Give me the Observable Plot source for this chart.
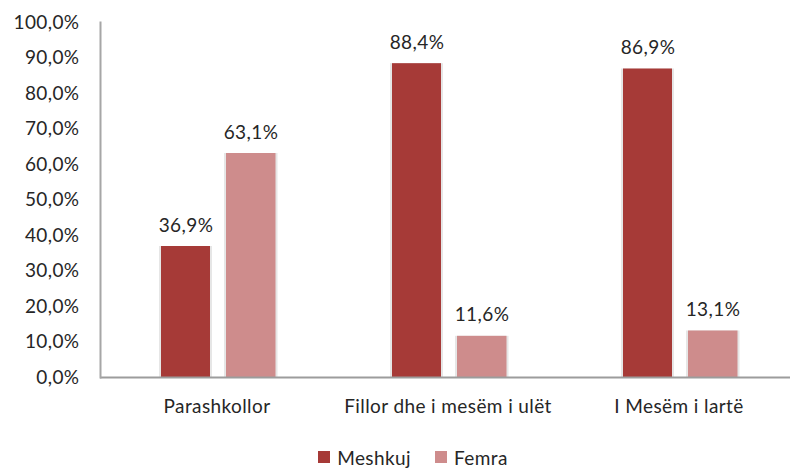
<!DOCTYPE html>
<html>
<head>
<meta charset="utf-8">
<script src="https://cdn.jsdelivr.net/npm/d3@7"></script>
<script src="https://cdn.jsdelivr.net/npm/@observablehq/plot@0.6"></script>
<style>
  body { margin: 0; background: #fff; }
  #legend { height: 30px; box-sizing: border-box; padding-top: 4px; display: flex; align-items: center; justify-content: center; margin-left: 36px;
    font-family: Lato, sans-serif; font-size: 19px; color: #262626; letter-spacing: 0.4px; }
  .sw { width: 12px; height: 12px; display: inline-block; margin-right: 7px; }
  .item { display: flex; align-items: center; margin: 0 12px; }
</style>
</head>
<body>
<div id="chart"></div>
<div id="legend"></div>
<script>
const categories = ["Parashkollor", "Fillor dhe i mesëm i ulët", "I Mesëm i lartë"];
const seriesNames = ["Meshkuj", "Femra"];
const meshkuj = [36.9, 88.4, 86.9];
const femra = [63.1, 11.6, 13.1];
const yTicks = [0, 10, 20, 30, 40, 50, 60, 70, 80, 90, 100];
const colors = ["#A63A37", "#CE8C8C"];

const fmt = v => v.toFixed(1).replace(".", ",") + "%";
const mData = categories.map((c, i) => ({cat: c, v: meshkuj[i]}));
const fData = categories.map((c, i) => ({cat: c, v: femra[i]}));

const chart = Plot.plot({
  width: 790, height: 440,
  marginLeft: 100, marginRight: 0, marginTop: 22, marginBottom: 63,
  style: {fontFamily: "Lato, sans-serif", fontSize: "19px", color: "#262626", background: "white", letterSpacing: "0.4px"},
  x: {domain: categories, range: [100, 794.5], padding: 0, axis: null},
  y: {domain: [0, 100], axis: null},
  marks: [
    Plot.barY(mData, {x: "cat", y: "v", fill: "#E6E6E6", insetLeft: 58, insetRight: 120}),
    Plot.barY(fData, {x: "cat", y: "v", fill: "#E6E6E6", insetLeft: 123, insetRight: 54.5}),
    Plot.barY(mData, {x: "cat", y: "v", fill: colors[0], insetLeft: 60, insetRight: 122}),
    Plot.barY(fData, {x: "cat", y: "v", fill: colors[1], insetLeft: 125, insetRight: 56.5}),
    Plot.text(mData, {x: "cat", y: "v", text: d => fmt(d.v), dx: -31, dy: -21, fill: "#262626"}),
    Plot.text(fData, {x: "cat", y: "v", text: d => fmt(d.v), dx: 34, dy: -21, fill: "#262626"}),
    Plot.ruleY([0], {stroke: "#9c9c9c", strokeWidth: 2}),
    Plot.frame({anchor: "left", stroke: "#a6a6a6", strokeWidth: 2}),
    Plot.axisY({ticks: yTicks, tickSize: 0, tickPadding: 21, tickFormat: fmt, label: null}),
    Plot.axisX({tickSize: 0, tickPadding: 22, label: null})
  ]
});
document.getElementById("chart").appendChild(chart);

const legend = document.getElementById("legend");
seriesNames.forEach((n, i) => {
  const it = document.createElement("span");
  it.className = "item";
  const sw = document.createElement("span");
  sw.className = "sw";
  sw.style.background = colors[i];
  it.appendChild(sw);
  it.appendChild(document.createTextNode(n));
  legend.appendChild(it);
});
</script>
</body>
</html>
